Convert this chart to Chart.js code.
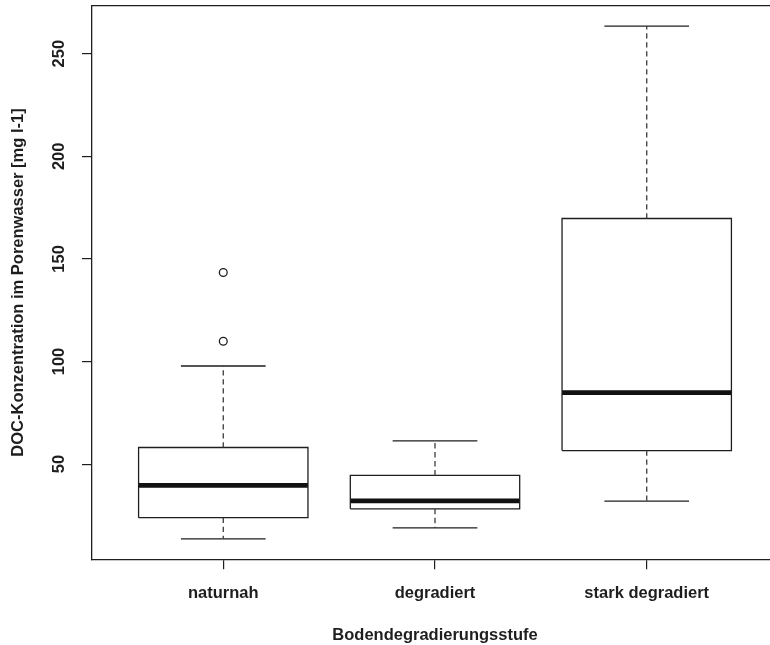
<!DOCTYPE html>
<html>
<head>
<meta charset="utf-8">
<script src="https://cdn.jsdelivr.net/npm/chart.js@4"></script>
<style>
  html, body { margin: 0; padding: 0; background: #ffffff; overflow: hidden; }
  #wrap { width: 770px; height: 645px; overflow: hidden; position: relative; }
  canvas { display: block; }
</style>
</head>
<body>
<div id="wrap"><canvas id="c" width="790" height="645"></canvas></div>
<script>
// ---- data ----
const categories    = ['naturnah', 'degradiert', 'stark degradiert'];
const lowerWhisker  = [13.6, 18.9, 32.0];
const q1            = [23.9, 28.2, 56.6];
const median        = [39.6, 32.1, 84.8];
const q3            = [58.1, 44.5, 169.7];
const upperWhisker  = [97.8, 61.3, 263.4];
const outliers      = [[143.4, 109.9], [], []];
const yTicks        = [50, 100, 150, 200, 250];
const xTitle = 'Bodendegradierungsstufe';
const yTitle = 'DOC-Konzentration im Porenwasser [mg l-1]';

// ---- build library datasets from the arrays ----
const BOX_HALF = 0.4, CAP_HALF = 0.2;
const boxPts = [], medPts = [], whiskPts = [], capPts = [], outPts = [];
categories.forEach((c, i) => {
  const x = i + 1;
  boxPts.push({x: x - BOX_HALF, y: q1[i]}, {x: x + BOX_HALF, y: q1[i]},
              {x: x + BOX_HALF, y: q3[i]}, {x: x - BOX_HALF, y: q3[i]},
              {x: x - BOX_HALF, y: q1[i]}, {x: x, y: null});
  medPts.push({x: x - BOX_HALF, y: median[i]}, {x: x + BOX_HALF, y: median[i]}, {x: x, y: null});
  whiskPts.push({x: x, y: q3[i]}, {x: x, y: upperWhisker[i]}, {x: x, y: null},
                {x: x, y: q1[i]}, {x: x, y: lowerWhisker[i]}, {x: x, y: null});
  capPts.push({x: x - CAP_HALF, y: upperWhisker[i]}, {x: x + CAP_HALF, y: upperWhisker[i]}, {x: x, y: null},
              {x: x - CAP_HALF, y: lowerWhisker[i]}, {x: x + CAP_HALF, y: lowerWhisker[i]}, {x: x, y: null});
  outliers[i].forEach(v => outPts.push({x: x, y: v}));
});

const allVals = lowerWhisker.concat(upperWhisker, ...outliers);
const lo = Math.min(...allVals), hi = Math.max(...allVals);
const ypad = 0.04 * (hi - lo);
const xmin = 0.5 - 0.04 * categories.length, xmax = categories.length + 0.5 + 0.04 * categories.length;

const INK = '#1e1e1e';
const font = {family: '"Liberation Sans", Arial, sans-serif', size: 16.5, weight: 'bold'};
Chart.defaults.font = Object.assign({}, Chart.defaults.font, font);
Chart.defaults.color = INK;

const lineDs = (data, w, dash, color) => ({
  type: 'scatter', data, showLine: true, spanGaps: false, pointRadius: 0, pointHoverRadius: 0,
  borderColor: color, borderWidth: w, borderDash: dash || [], borderCapStyle: 'butt',
  fill: false, tension: 0
});

const noPad = s => { s.paddingTop = 0; s.paddingBottom = 0; s.paddingLeft = 0; s.paddingRight = 0; };

new Chart(document.getElementById('c'), {
  type: 'scatter',
  data: {
    datasets: [
      lineDs(whiskPts, 1.3, [5.3, 3.7], '#3a3a3a'),
      lineDs(capPts, 1.3, null, INK),
      lineDs(boxPts, 1.3, null, INK),
      lineDs(medPts, 4.7, null, '#111'),
      { type: 'scatter', data: outPts, pointRadius: 3.9, pointBorderWidth: 1.3,
        pointBackgroundColor: '#ffffff', pointBorderColor: INK, showLine: false }
    ]
  },
  options: {
    responsive: false,
    animation: false,
    events: [],
    layout: { padding: { top: 5.7, right: 12, left: 0, bottom: 0 } },
    plugins: { legend: { display: false }, tooltip: { enabled: false } },
    scales: {
      x: {
        type: 'linear', position: 'bottom', min: xmin, max: xmax,
        afterBuildTicks: s => { s.ticks = categories.map((c, i) => ({value: i + 1})); },
        afterFit: s => { s.height = 85.7; noPad(s); },
        ticks: { autoSkip: false, maxRotation: 0, minRotation: 0, padding: 14.4,
                 callback: (v) => categories[Math.round(v) - 1] },
        grid: { display: true, drawOnChartArea: false, drawTicks: true, tickLength: 10,
                color: INK, lineWidth: 1.2 },
        border: { display: true, color: INK, width: 1.3 },
        title: { display: true, text: xTitle, padding: { top: 0, bottom: 0 } }
      },
      xTop: {
        type: 'linear', position: 'top', min: 0, max: 1,
        afterFit: s => { s.height = 0; noPad(s); },
        ticks: { display: false },
        grid: { display: false, drawTicks: false },
        border: { display: true, color: INK, width: 1.3 }
      },
      y: {
        type: 'linear', position: 'left', min: lo - ypad, max: hi + ypad,
        afterBuildTicks: s => { s.ticks = yTicks.map(v => ({value: v})); },
        afterFit: s => { s.width = 92; noPad(s); },
        ticks: { autoSkip: false, minRotation: 90, maxRotation: 90, crossAlign: 'center', padding: 9,
                 callback: v => String(v) },
        grid: { display: true, drawOnChartArea: false, drawTicks: true, tickLength: 10,
                color: INK, lineWidth: 1.2 },
        border: { display: true, color: INK, width: 1.3 },
        title: { display: true, text: yTitle, padding: { top: 8.4, bottom: 0 } }
      }
    }
  }
});
</script>
</body>
</html>
